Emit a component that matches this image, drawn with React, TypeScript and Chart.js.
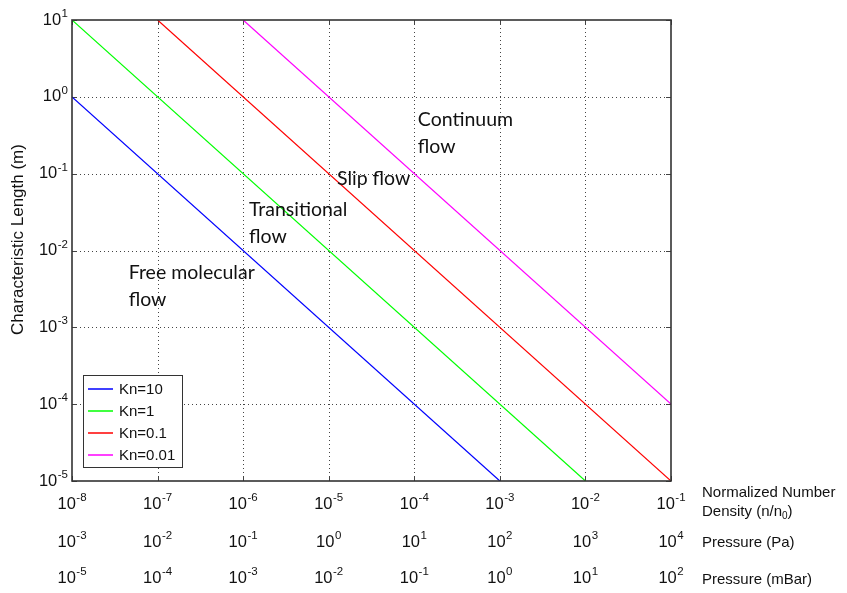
import React, { useEffect, useRef } from "react";
import { Chart, registerables } from "chart.js";

Chart.register(...registerables);

// ---- data ----
const seriesLabels = ["Kn=10", "Kn=1", "Kn=0.1", "Kn=0.01"];
const seriesColors = ["#0000ff", "#00ff00", "#ff0000", "#ff00ff"];
const kn10X = [1e-8, 1e-3];
const kn10Y = [1, 1e-5];
const kn1X = [1e-8, 1e-2];
const kn1Y = [10, 1e-5];
const kn01X = [1e-7, 1e-1];
const kn01Y = [10, 1e-5];
const kn001X = [1e-6, 1e-1];
const kn001Y = [10, 1e-4];

const densityExp = [-8, -7, -6, -5, -4, -3, -2, -1];
const paExp = [-3, -2, -1, 0, 1, 2, 3, 4];
const mbarExp = [-5, -4, -3, -2, -1, 0, 1, 2];
const lengthExp = [-5, -4, -3, -2, -1, 0, 1];

const regionText = [["Continuum", "flow"], ["Slip flow"], ["Transitional", "flow"], ["Free molecular", "flow"]];
const regionX = [1.1e-4, 1.25e-5, 1.17e-6, 4.6e-8];
const regionY = [0.5, 0.085, 0.0336, 0.0051];

const yTitle = "Characteristic Length (m)";
const rowTitles = ["Pressure (Pa)", "Pressure (mBar)"];

const TICK_FONT = "'Liberation Sans', Arial, sans-serif";

function drawPow(ctx: CanvasRenderingContext2D, exp: number, x: number, y: number, align: "center" | "right") {
  ctx.save();
  ctx.fillStyle = "#111";
  ctx.textBaseline = "middle";
  ctx.textAlign = "left";
  ctx.font = `16.5px ${TICK_FONT}`;
  const base = "10";
  const wb = ctx.measureText(base).width;
  ctx.font = `11.5px ${TICK_FONT}`;
  const es = String(exp);
  const we = ctx.measureText(es).width;
  const total = wb + we + 0.5;
  const start = align === "center" ? x - total / 2 : x - total;
  ctx.font = `16.5px ${TICK_FONT}`;
  ctx.fillText(base, start, y);
  ctx.font = `11.5px ${TICK_FONT}`;
  ctx.textBaseline = "alphabetic";
  ctx.fillText(es, start + wb + 0.5, y - 3);
  ctx.restore();
}

const overlayPlugin = {
  id: "overlay",
  beforeDatasetsDraw(chart: any) {
    const { ctx, chartArea: a, scales } = chart;
    const xs = scales.x, ys = scales.y;
    ctx.save();
    ctx.strokeStyle = "#444";
    ctx.lineWidth = 1;
    ctx.setLineDash([1, 3]);
    densityExp.forEach((e) => {
      const px = Math.round(xs.getPixelForValue(Math.pow(10, e))) + 0.5;
      if (px <= a.left + 1 || px >= a.right - 1) return;
      ctx.beginPath();
      ctx.moveTo(px, a.top);
      ctx.lineTo(px, a.bottom);
      ctx.stroke();
    });
    lengthExp.forEach((e) => {
      const py = Math.round(ys.getPixelForValue(Math.pow(10, e))) + 0.5;
      if (py <= a.top + 1 || py >= a.bottom - 1) return;
      ctx.beginPath();
      ctx.moveTo(a.left, py);
      ctx.lineTo(a.right, py);
      ctx.stroke();
    });
    ctx.setLineDash([]);
    ctx.strokeStyle = "#444";
    densityExp.forEach((e) => {
      const px = Math.round(xs.getPixelForValue(Math.pow(10, e))) + 0.5;
      ctx.beginPath();
      ctx.moveTo(px, a.top);
      ctx.lineTo(px, a.top + 5);
      ctx.moveTo(px, a.bottom);
      ctx.lineTo(px, a.bottom - 5);
      ctx.stroke();
    });
    lengthExp.forEach((e) => {
      const py = Math.round(ys.getPixelForValue(Math.pow(10, e))) + 0.5;
      ctx.beginPath();
      ctx.moveTo(a.left, py);
      ctx.lineTo(a.left + 5, py);
      ctx.moveTo(a.right, py);
      ctx.lineTo(a.right - 5, py);
      ctx.stroke();
    });
    ctx.restore();
  },
  afterDatasetsDraw(chart: any) {
    const { ctx, chartArea: a, scales } = chart;
    const xs = scales.x, ys = scales.y;
    ctx.save();
    // frame
    ctx.strokeStyle = "#333";
    ctx.lineWidth = 1.6;
    ctx.strokeRect(a.left, a.top, a.right - a.left, a.bottom - a.top);

    // region labels
    ctx.fillStyle = "#111";
    ctx.font = "19.5px Lato, 'Open Sans', sans-serif";
    ctx.textAlign = "left";
    ctx.textBaseline = "middle";
    regionText.forEach((lines, i) => {
      const px = xs.getPixelForValue(regionX[i]);
      const py = ys.getPixelForValue(regionY[i]);
      lines.forEach((t, j) => ctx.fillText(t, px, py + j * 26.5));
    });

    // legend
    const lx = Math.round(a.left + 11), lb = Math.round(a.bottom - 14);
    const lw = 99, lh = 92;
    const ly = lb - lh;
    ctx.fillStyle = "#fff";
    ctx.fillRect(lx, ly, lw, lh);
    ctx.strokeStyle = "#333";
    ctx.lineWidth = 1;
    ctx.strokeRect(lx + 0.5, ly + 0.5, lw, lh);
    ctx.font = `15px ${TICK_FONT}`;
    seriesLabels.forEach((lab, i) => {
      const ry = ly + 14 + i * 22;
      ctx.strokeStyle = seriesColors[i];
      ctx.lineWidth = 1.5;
      ctx.beginPath();
      ctx.moveTo(lx + 5, ry);
      ctx.lineTo(lx + 30, ry);
      ctx.stroke();
      ctx.fillStyle = "#111";
      ctx.fillText(lab, lx + 36, ry + 1);
    });

    // y tick labels
    lengthExp.forEach((e) => {
      const py = ys.getPixelForValue(Math.pow(10, e));
      drawPow(ctx, e, a.left - 4, py, "right");
    });
    // x tick label rows
    densityExp.forEach((e, i) => {
      const px = xs.getPixelForValue(Math.pow(10, e));
      drawPow(ctx, densityExp[i], px, a.bottom + 23, "center");
      drawPow(ctx, paExp[i], px, a.bottom + 61, "center");
      drawPow(ctx, mbarExp[i], px, a.bottom + 97, "center");
    });

    // row titles
    const tx = a.right + 31;
    ctx.fillStyle = "#111";
    ctx.font = `15px ${TICK_FONT}`;
    ctx.textAlign = "left";
    ctx.textBaseline = "middle";
    ctx.fillText("Normalized Number", tx, a.bottom + 12);
    const d1 = "Density (n/n";
    ctx.fillText(d1, tx, a.bottom + 31);
    const w1 = ctx.measureText(d1).width;
    ctx.font = `10px ${TICK_FONT}`;
    ctx.fillText("0", tx + w1, a.bottom + 35);
    const w2 = ctx.measureText("0").width;
    ctx.font = `15px ${TICK_FONT}`;
    ctx.fillText(")", tx + w1 + w2, a.bottom + 31);
    ctx.fillText(rowTitles[0], tx, a.bottom + 62);
    ctx.fillText(rowTitles[1], tx, a.bottom + 99);

    // y title
    ctx.save();
    ctx.translate(18, (a.top + a.bottom) / 2 - 11);
    ctx.rotate(-Math.PI / 2);
    ctx.textAlign = "center";
    ctx.textBaseline = "middle";
    ctx.font = `17px ${TICK_FONT}`;
    ctx.fillText(yTitle, 0, 0);
    ctx.restore();

    ctx.restore();
  },
};

export default function App() {
  const ref = useRef<HTMLCanvasElement | null>(null);
  useEffect(() => {
    if (!ref.current) return;
    const xsList = [kn10X, kn1X, kn01X, kn001X];
    const ysList = [kn10Y, kn1Y, kn01Y, kn001Y];
    const chart = new Chart(ref.current, {
      type: "scatter",
      data: {
        datasets: seriesLabels.map((lab, i) => ({
          label: lab,
          data: xsList[i].map((x, k) => ({ x, y: ysList[i][k] })),
          showLine: true,
          borderColor: seriesColors[i],
          backgroundColor: seriesColors[i],
          borderWidth: 1.2,
          pointRadius: 0,
          pointHoverRadius: 0,
        })),
      },
      options: {
        animation: false,
        responsive: true,
        maintainAspectRatio: false,
        events: [],
        layout: { padding: { left: 72, top: 20, right: 176, bottom: 112 } },
        plugins: { legend: { display: false }, tooltip: { enabled: false } },
        scales: {
          x: { type: "logarithmic", min: 1e-8, max: 1e-1, display: false },
          y: { type: "logarithmic", min: 1e-5, max: 10, display: false },
        },
      },
      plugins: [overlayPlugin],
    });
    return () => chart.destroy();
  }, []);
  return (
    <div style={{ position: "fixed", left: 0, top: 0, width: 847, height: 593, background: "#fff" }}>
      <canvas ref={ref} />
    </div>
  );
}
